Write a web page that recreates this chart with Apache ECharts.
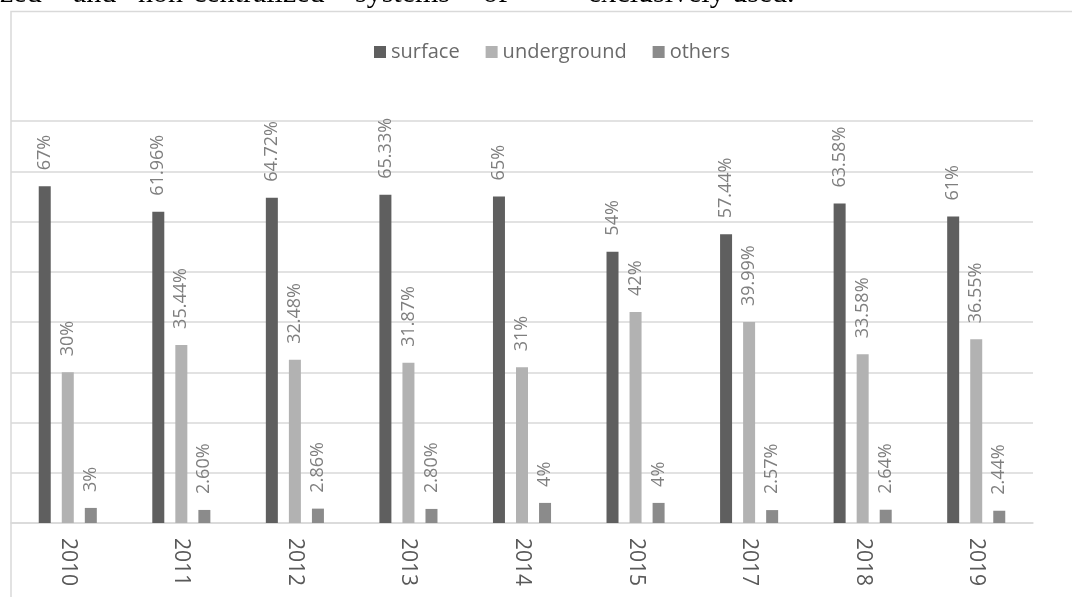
<!DOCTYPE html>
<html>
<head>
<meta charset="utf-8">
<script src="https://cdn.jsdelivr.net/npm/echarts@6/dist/echarts.min.js"></script>
<style>
html,body{margin:0;padding:0;background:#fff;}
#c{width:1072px;height:597px;}
</style>
</head>
<body>
<div id="c"></div>
<script>
const years = ['2010','2011','2012','2013','2014','2015','2017','2018','2019'];
const surface = ['67','61.96','64.72','65.33','65','54','57.44','63.58','61'];
const underground = ['30','35.44','32.48','31.87','31','42','39.99','33.58','36.55'];
const others = ['3','2.60','2.86','2.80','4','4','2.57','2.64','2.44'];
const seriesNames = ['surface','underground','others'];
const seriesData = [surface, underground, others];
const colors = ['#5f5f5f','#b2b2b2','#8b8b8b'];
const bodyWords = [['zed',0],['and',73],['non-centralized',138],['systems',355],['of',483],['exclusively used.',588]];

const chart = echarts.init(document.getElementById('c'), null, {renderer:'canvas'});
const FONT = '"Open Sans", sans-serif';

chart.setOption({
  animation: false,
  backgroundColor: '#ffffff',
  legend: {
    left: 369, top: 37,
    itemWidth: 12, itemHeight: 12, itemGap: 26,
    icon: 'rect',
    textStyle: {fontFamily: FONT, fontSize: 20, color: '#6a6a6a'},
    data: seriesNames
  },
  grid: {left: 11, right: 39, top: 121, bottom: 74, containLabel: false},
  xAxis: {
    type: 'category',
    data: years,
    boundaryGap: true,
    axisLine: {show: true, lineStyle: {color: '#d9d9d9', width: 1.5}},
    axisTick: {show: false},
    axisLabel: {rotate: -90, margin: 15, fontFamily: FONT, fontSize: 21, color: '#595959'}
  },
  yAxis: {
    type: 'value', min: 0, max: 80, interval: 10,
    axisLine: {show: false}, axisTick: {show: false}, axisLabel: {show: false},
    splitLine: {lineStyle: {color: '#d9d9d9', width: 1.5}}
  },
  graphic: [
    {type: 'polyline', silent: true, shape: {points: [[11,597],[11,11.5],[1072,11.5]]},
     style: {stroke: '#d9d9d9', lineWidth: 1.5, fill: null}},
    ...bodyWords.map(w => ({
      type: 'text', silent: true, x: w[1], y: -6,
      style: {text: w[0], font: '30px "Liberation Serif", serif', fill: '#000', verticalAlign: 'middle'}
    }))
  ],
  series: seriesData.map((arr, i) => ({
    name: seriesNames[i],
    type: 'bar',
    data: arr,
    barWidth: 12,
    barGap: '92%',
    itemStyle: {color: colors[i]},
    label: {
      show: true, position: 'top', distance: 16, rotate: 90,
      align: 'left', verticalAlign: 'middle',
      fontFamily: FONT, fontSize: 18, color: '#7f7f7f',
      formatter: p => seriesData[i][p.dataIndex] + '%'
    }
  }))
});
</script>
</body>
</html>
